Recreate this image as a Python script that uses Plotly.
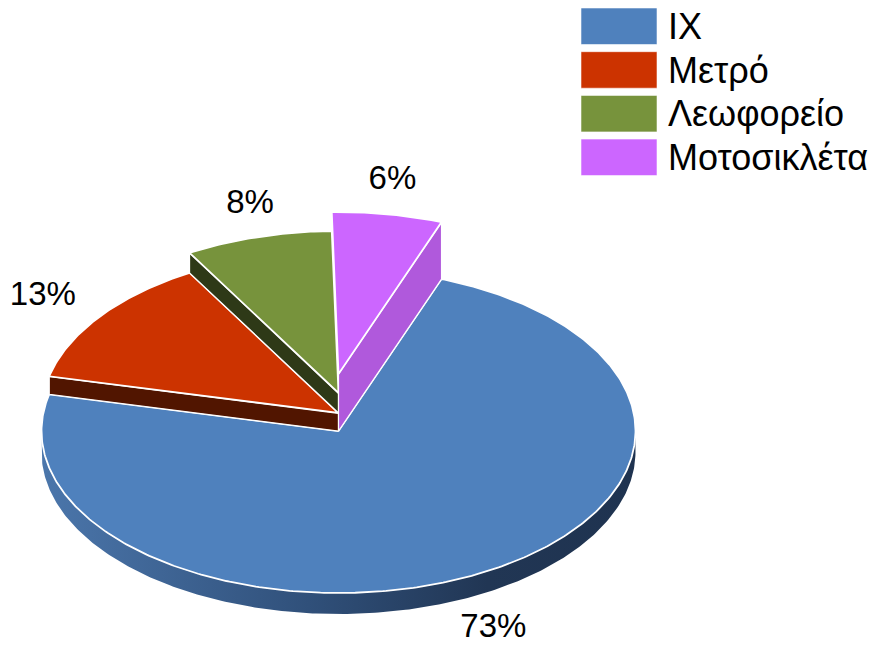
import numpy as np
import plotly.graph_objects as go

# ---------------- data ----------------
categories = ["IX", "Μετρό", "Λεωφορείο", "Μοτοσικλέτα"]
values = [73, 13, 8, 6]

# ---------------- style ----------------
face_colors = ["#4F81BD", "#CC3300", "#77933C", "#CC66FF"]
wall_colors = ["#3d6596", "#511500", "#2e3917", "#B059DC"]
rim_scale = [[0, "#4b76ab"], [0.45, "#30507a"], [0.75, "#213654"], [1, "#1f3350"]]
lift = [0, 18, 38, 57]          # explosion of each slice (px, upward)
clockwise_order = [3, 0, 1, 2]  # slice order clockwise from the top
START = -1.3                    # start angle (deg, clockwise from 12 o'clock)

W, H = 873, 650
CX, CY, RX, RY, DEPTH = 338.5, 431.0, 297.0, 162.0, 21.0
FONT = "Liberation Sans, Arial, sans-serif"

total = float(sum(values))
spans = {}
a = START
for i in clockwise_order:
    s = 360.0 * values[i] / total
    spans[i] = (a, a + s)
    a += s


def pt(t, lf=0.0, drop=0.0, kx=1.0, ky=1.0):
    r = np.radians(t)
    return CX + kx * RX * np.sin(r), CY - lf - ky * RY * np.cos(r) + drop


def arc(t0, t1, lf=0.0, drop=0.0, n=None):
    n = n or max(int(abs(t1 - t0) * 1.5), 4)
    ts = np.linspace(t0, t1, n)
    xs, ys = pt(ts, lf, drop)
    return list(xs), list(ys)


fig = go.Figure()


def poly(xs, ys, color, lw=1.6, lc="white", grad=None):
    kw = dict(x=xs + [xs[0]], y=ys + [ys[0]], mode="lines", fill="toself",
              line=dict(color=lc, width=lw), hoverinfo="skip", showlegend=False)
    if grad is not None:
        kw["fillgradient"] = dict(type="horizontal", colorscale=grad)
    else:
        kw["fillcolor"] = color
    fig.add_trace(go.Scatter(**kw))


# outer rims (front-facing part of each slice)
for i in clockwise_order:
    t0, t1 = spans[i]
    for base in (0, 360, -360):
        lo, hi = max(t0, 90 + base), min(t1, 270 + base)
        if hi > lo:
            xt, yt = arc(lo, hi, lift[i])
            xb, yb = arc(lo, hi, lift[i], DEPTH)
            poly(xt + xb[::-1], yt + yb[::-1], wall_colors[i], lw=0, grad=rim_scale)

# slices, lowest lift first: radial walls then top face
pos = {i: p for p, i in enumerate(clockwise_order)}
for i in sorted(range(len(values)), key=lambda k: lift[k]):
    t0, t1 = spans[i]
    prev_i = clockwise_order[(pos[i] - 1) % len(values)]
    next_i = clockwise_order[(pos[i] + 1) % len(values)]
    for t, nb, visible in ((t0, prev_i, np.sin(np.radians(t0)) < -0.05),
                           (t1, next_i, np.sin(np.radians(t1)) > 0.05)):
        if visible and lift[nb] < lift[i]:
            xa, ya = pt(t, lift[i])
            xb, yb = pt(t, lift[nb])
            poly([CX, xa, xb, CX], [CY - lift[i], ya, yb, CY - lift[nb]],
                 wall_colors[i], lw=1.2)
    xs, ys = arc(t0, t1, lift[i])
    poly([CX] + xs, [CY - lift[i]] + ys, face_colors[i], lw=1.8)

# percentage labels (outside end)
lx, ly, lt, lp = [], [], [], []
for i in range(len(values)):
    t0, t1 = spans[i]
    m = (t0 + t1) / 2
    x, y = pt(m, lift[i], kx=1.1, ky=1.21)
    if np.cos(np.radians(m)) < 0:
        y += DEPTH + 4
    s = np.sin(np.radians(m))
    lx.append(x)
    ly.append(y)
    lt.append(f"{round(100 * values[i] / total)}%")
    lp.append("middle left" if s < -0.5 else ("middle right" if s > 0.5 else "middle center"))
fig.add_trace(go.Scatter(x=lx, y=ly, text=lt, mode="text", textposition=lp,
                         hoverinfo="skip", showlegend=False,
                         textfont=dict(family=FONT, size=33, color="black")))

# legend (boxes + text)
for j, name in enumerate(categories):
    top = 8 + j * 43.7
    fig.add_shape(type="rect", xref="x", yref="y", x0=581, x1=657, y0=top, y1=top + 36.5,
                  fillcolor=face_colors[j], line=dict(color="rgba(255,255,255,0.55)", width=1))
    fig.add_annotation(x=666, y=top + 18.5, xref="x", yref="y", text=name, showarrow=False,
                       xanchor="left", yanchor="middle",
                       font=dict(family=FONT, size=36, color="black"))

fig.update_layout(
    width=W, height=H, margin=dict(l=0, r=0, t=0, b=0),
    paper_bgcolor="white", plot_bgcolor="white", showlegend=False,
    xaxis=dict(range=[0, W], visible=False, fixedrange=True),
    yaxis=dict(range=[H, 0], visible=False, fixedrange=True),
)
fig.write_html("out.html")
